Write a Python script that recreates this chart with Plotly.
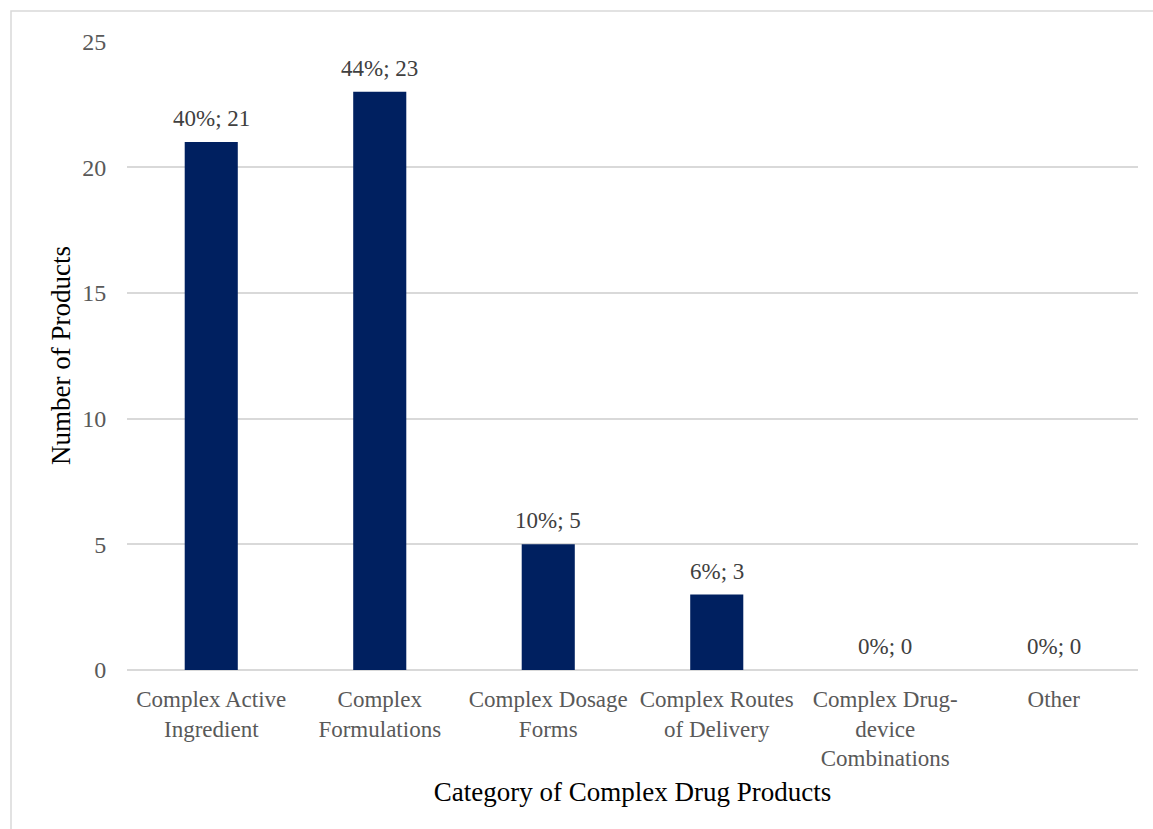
import plotly.graph_objects as go

categories = [
    "Complex Active<br>Ingredient",
    "Complex<br>Formulations",
    "Complex Dosage<br>Forms",
    "Complex Routes<br>of Delivery",
    "Complex Drug-<br>device<br>Combinations",
    "Other",
]
counts = [21, 23, 5, 3, 0, 0]
percents = ["40%", "44%", "10%", "6%", "0%", "0%"]
y_ticks = [0, 5, 10, 15, 20, 25]

W, H = 1153, 829
ml, mr, mt, mb = 127, 15, 41, 159
pw, ph = W - ml - mr, H - mt - mb

fig = go.Figure(
    go.Bar(
        x=categories,
        y=counts,
        marker=dict(color="#002060", line=dict(width=0)),
    )
)

# value labels above each bar
for cat, c, p in zip(categories, counts, percents):
    fig.add_annotation(
        x=cat,
        y=c,
        text=f"{p}; {c}",
        showarrow=False,
        yanchor="bottom",
        yshift=9,
        font=dict(family="Liberation Serif", size=23, color="#404040"),
    )

fig.update_layout(
    width=W,
    height=H,
    margin=dict(l=ml, r=mr, t=mt, b=mb),
    paper_bgcolor="white",
    plot_bgcolor="white",
    bargap=0.685,
    showlegend=False,
    font=dict(family="Liberation Serif", color="#595959"),
    xaxis=dict(
        tickfont=dict(size=23, color="#595959"),
        showgrid=False,
        showline=False,
        ticks="outside",
        ticklen=8,
        tickcolor="rgba(0,0,0,0)",
        title=dict(
            text="Category of Complex Drug Products",
            font=dict(size=27, color="black"),
            standoff=11,
        ),
    ),
    yaxis=dict(
        range=[0, 25.02],
        tickvals=y_ticks,
        tickfont=dict(size=24, color="#595959"),
        showgrid=True,
        gridcolor="#d9d9d9",
        gridwidth=1.5,
        zeroline=True,
        zerolinecolor="#d9d9d9",
        zerolinewidth=1.5,
        ticks="outside",
        ticklen=15,
        tickcolor="rgba(0,0,0,0)",
        title=dict(
            text="Number of Products",
            font=dict(size=27, color="black"),
            standoff=3,
        ),
    ),
    shapes=[
        dict(
            type="rect",
            xref="paper",
            yref="paper",
            x0=(11 - ml) / pw,
            x1=(W + 20 - ml) / pw,
            y0=-(mb + 20) / ph,
            y1=(H - 11 - mb) / ph,
            line=dict(color="#d9d9d9", width=1.5),
            layer="below",
        )
    ],
)

fig.write_html("out.html")
